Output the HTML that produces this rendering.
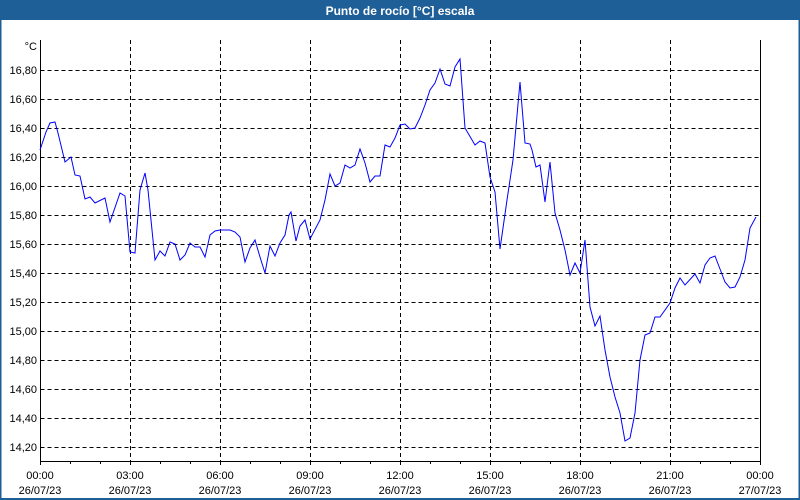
<!DOCTYPE html>
<html><head><meta charset="utf-8"><style>
html,body{margin:0;padding:0;background:#fff}
body{width:800px;height:500px;position:relative;overflow:hidden;font-family:"Liberation Sans","DejaVu Sans",sans-serif}
</style></head><body>
<svg width="800" height="500" xmlns="http://www.w3.org/2000/svg" style="position:absolute;left:0;top:0">
<rect x="0" y="0" width="800" height="500" fill="#fff"/>
<rect x="0" y="0" width="800" height="20" fill="#1e5f98"/>
<rect x="0" y="0" width="1.5" height="500" fill="#1e5f98"/>
<rect x="798.5" y="0" width="1.5" height="500" fill="#1e5f98"/>
<rect x="0" y="498" width="800" height="2" fill="#1e5f98"/>
<text x="400" y="15" fill="#fff" font-size="12" font-weight="bold" text-anchor="middle">Punto de rocío [°C] escala</text>
<g stroke="#000" stroke-width="1" stroke-dasharray="4,3" fill="none">
<path d="M40.5 70.5H760M40.5 99.5H760M40.5 128.5H760M40.5 157.5H760M40.5 186.5H760M40.5 215.5H760M40.5 244.5H760M40.5 273.5H760M40.5 302.5H760M40.5 331.5H760M40.5 360.5H760M40.5 389.5H760M40.5 418.5H760M40.5 447.5H760"/>
<path d="M130.5 40V461M220.5 40V461M310.5 40V461M400.5 40V461M490.5 40V461M580.5 40V461M670.5 40V461"/>
</g>
<path d="M40.5 40V461.5H760.5V40" stroke="#000" stroke-width="1" fill="none"/>
<g stroke="#000" stroke-width="1">
<path d="M40.5 461v4M70.5 461v3M100.5 461v3M130.5 461v4M160.5 461v3M190.5 461v3M220.5 461v4M250.5 461v3M280.5 461v3M310.5 461v4M340.5 461v3M370.5 461v3M400.5 461v4M430.5 461v3M460.5 461v3M490.5 461v4M520.5 461v3M550.5 461v3M580.5 461v4M610.5 461v3M640.5 461v3M670.5 461v4M700.5 461v3M730.5 461v3M760.5 461v4"/>
</g>
<g font-size="11" fill="#000" text-anchor="end">
<text x="37" y="50">°C</text>
<text x="37" y="74">16,80</text><text x="37" y="103">16,60</text><text x="37" y="132">16,40</text><text x="37" y="161">16,20</text><text x="37" y="190">16,00</text><text x="37" y="219">15,80</text><text x="37" y="248">15,60</text><text x="37" y="277">15,40</text><text x="37" y="306">15,20</text><text x="37" y="335">15,00</text><text x="37" y="364">14,80</text><text x="37" y="393">14,60</text><text x="37" y="422">14,40</text><text x="37" y="451">14,20</text>
</g>
<g font-size="11" fill="#000" text-anchor="middle">
<text x="40" y="479">00:00</text><text x="40" y="494">26/07/23</text>
<text x="130" y="479">03:00</text><text x="130" y="494">26/07/23</text>
<text x="220" y="479">06:00</text><text x="220" y="494">26/07/23</text>
<text x="310" y="479">09:00</text><text x="310" y="494">26/07/23</text>
<text x="400" y="479">12:00</text><text x="400" y="494">26/07/23</text>
<text x="490" y="479">15:00</text><text x="490" y="494">26/07/23</text>
<text x="580" y="479">18:00</text><text x="580" y="494">26/07/23</text>
<text x="670" y="479">21:00</text><text x="670" y="494">26/07/23</text>
<text x="760" y="479">00:00</text><text x="760" y="494">27/07/23</text>
</g>
<polyline fill="none" stroke="#0000ff" stroke-width="1" points="40,150 46,132 50,123 55,122 58,133 65,162 71,157 75,175 80,176 85,199 90,197 95,203 105,198 110,222 120,193 125,196 130,252 135,253 140,190 145,173 148,190 155,260 160,251 165,256 170,242 175,244 180,260 185,255 190,243 195,247 200,247 205,257 210,235 215,231 220,230 230,230 235,232 240,237 245,262 250,248 255,240 260,257 265,273 270,246 275,256 280,243 285,235 289,215 291,212 296,241 300,226 305,220 310,239 320,220 325,200 330,174 335,186 340,183 345,165 350,168 355,165 360,149 365,163 370,182 375,176 380,176 385,145 390,147 395,138 400,125 405,124 410,129 415,128 420,118 425,105 430,90 435,83 440,69 445,84 450,86 455,67 460,59 465,128 475,145 480,141 485,143 490,177 495,192 500,249 507,200 513,160 520,82 525,143 530,144 532,150 536,167 540,165 545,202 550,162 555,213 560,230 565,250 570,275 575,263 580,273 585,240 590,307 595,326 600,316 605,350 610,377 615,397 620,413 625,441 630,438 635,413 640,360 645,335 650,333 655,317 660,317 670,303 675,288 680,278 685,285 695,274 700,283 705,265 710,258 715,256 720,269 725,282 730,288 735,287 740,277 745,260 750,228 756,217"/>
</svg>
</body></html>
